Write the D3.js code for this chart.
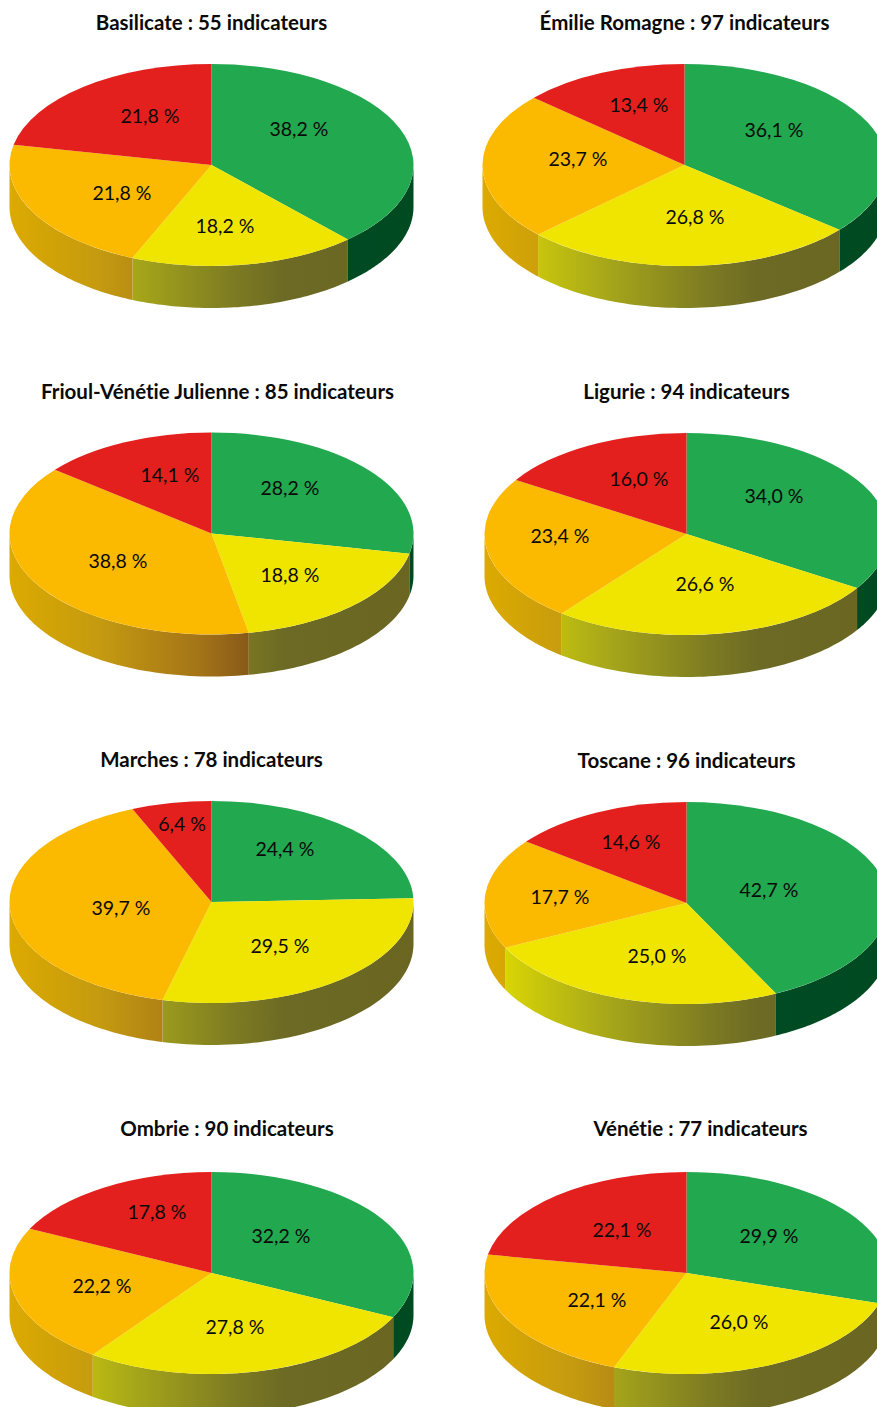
<!DOCTYPE html>
<html lang="fr">
<head>
<meta charset="utf-8">
<title>Indicateurs par région</title>
<script src="https://cdn.jsdelivr.net/npm/d3@7/dist/d3.min.js"></script>
<style>
  html, body { margin: 0; padding: 0; background: #fff; }
  svg { display: block; }
  text { font-family: "Lato", sans-serif; fill: #0a0a0a; text-anchor: middle; font-variant-ligatures: none; }
  .title { font-weight: 700; font-size: 20.5px; }
  .value { font-size: 19.5px; }
</style>
</head>
<body>
<svg id="chart" width="877" height="1407"></svg>
<script>
// Regions and their number of indicators
const regions = ["Basilicate", "Émilie Romagne", "Frioul-Vénétie Julienne", "Ligurie",
                 "Marches", "Toscane", "Ombrie", "Vénétie"];
const indicatorCounts = [55, 97, 85, 94, 78, 96, 90, 77];

// Share of indicators per status, in percent, one entry per region
const categories = ["vert", "jaune", "orange", "rouge"];
const greenShares  = [38.2, 36.1, 28.2, 34.0, 24.4, 42.7, 32.2, 29.9];
const yellowShares = [18.2, 26.8, 18.8, 26.6, 29.5, 25.0, 27.8, 26.0];
const orangeShares = [21.8, 23.7, 38.8, 23.4, 39.7, 17.7, 22.2, 22.1];
const redShares    = [21.8, 13.4, 14.1, 16.0,  6.4, 14.6, 17.8, 22.1];
const sharesByCategory = [greenShares, yellowShares, orangeShares, redShares];

// Layout: pie centres, title centres, and value label centres (per category)
const pieCentres = [[211.5,165],[684.5,165],[211.5,533.5],[686.5,534],[211.5,902],[686.5,903],[211.5,1273],[686.5,1273]];
const titleCentres = [[211.5,23],[684.5,23],[217.5,392],[686.5,392],[211.5,760],[686.5,761],[227,1129],[700.5,1129]];
const labelCentres = [
  [[299,129],[225,226],[122,193],[150,116]],
  [[774,130],[695,217],[578,159],[639,105]],
  [[290,488],[290,575],[118,561],[170,475]],
  [[774,496],[705,584],[560,536],[639,479]],
  [[285,849],[280,946],[121,908],[182,824]],
  [[769,890],[657,956],[560,897],[631,842]],
  [[281,1236],[235,1327],[102,1286],[157,1212]],
  [[769,1236],[739,1322],[597,1300],[622,1230]]
];

const radiusX = 202, radiusY = 101, depth = 42;
const topColours = { vert: "#22a84f", jaune: "#f0e500", orange: "#fbb900", rouge: "#e4201e" };
const sideStops = {
  vert:   [[0, "#004d24"], [1, "#004a22"]],
  jaune:  [[0, "#e2de00"], [0.3, "#a8a81a"], [0.55, "#7e7c22"], [0.68, "#6c6a24"], [1, "#6a6622"]],
  orange: [[0, "#dcaa00"], [0.225, "#c49a10"], [0.47, "#a47418"], [0.59, "#885a18"], [1, "#885a18"]],
  rouge:  [[0, "#8f1512"], [1, "#8f1512"]]
};

const svg = d3.select("#chart");
const defs = svg.append("defs");

// One horizontal shading per status, spanning the pie's width
categories.forEach(cat => {
  const g = defs.append("linearGradient")
    .attr("id", "side-" + cat)
    .attr("gradientUnits", "userSpaceOnUse")
    .attr("x1", -radiusX).attr("x2", radiusX).attr("y1", 0).attr("y2", 0);
  sideStops[cat].forEach(([o, c]) => g.append("stop").attr("offset", o).attr("stop-color", c));
});

const xProj = d3.scaleLinear().domain([-1, 1]).range([-radiusX, radiusX]);
const yProj = d3.scaleLinear().domain([-1, 1]).range([-radiusY, radiusY]);

const pie = d3.pie().sort(null).value(d => d.value);
const arc = d3.arc().innerRadius(0).outerRadius(radiusX);
const fmt = d3.format(".1f");
const frNumber = v => fmt(v).replace(".", ",") + " %";

regions.forEach((name, r) => {
  const data = categories.map((cat, c) => ({ cat, value: sharesByCategory[c][r] }));
  const arcs = pie(data);
  const [cx, cy] = pieCentres[r];
  const g = svg.append("g").attr("transform", `translate(${cx},${cy})`);

  // Rim: a front arc joined to the same arc pushed down by the depth
  arcs.forEach(s => {
    const a0 = Math.max(s.startAngle, Math.PI / 2);
    const a1 = Math.min(s.endAngle, 3 * Math.PI / 2);
    if (a1 <= a0) return;
    const steps = d3.range(0, 61).map(i => a0 + (a1 - a0) * i / 60);
    const upper = steps.map(a => [xProj(Math.sin(a)), yProj(-Math.cos(a))]);
    const lower = upper.slice().reverse().map(p => [p[0], p[1] + depth]);
    g.append("path")
      .attr("d", d3.line()(upper.concat(lower)) + "Z")
      .attr("fill", `url(#side-${s.data.cat})`);
  });

  // Top face: a flat pie squashed to half its height
  const face = g.append("g").attr("transform", `scale(1,${radiusY / radiusX})`);
  face.selectAll("path").data(arcs).join("path")
    .attr("d", arc)
    .attr("fill", d => topColours[d.data.cat]);

  // Value labels
  arcs.forEach((s, i) => {
    const [lx, ly] = labelCentres[r][i];
    svg.append("text").attr("class", "value")
      .attr("x", lx).attr("y", ly).attr("dy", "0.36em")
      .text(frNumber(s.data.value));
  });

  // Region title
  svg.append("text").attr("class", "title")
    .attr("x", titleCentres[r][0]).attr("y", titleCentres[r][1]).attr("dy", "0.36em")
    .text(`${name} : ${indicatorCounts[r]} indicateurs`);
});
</script>
</body>
</html>
